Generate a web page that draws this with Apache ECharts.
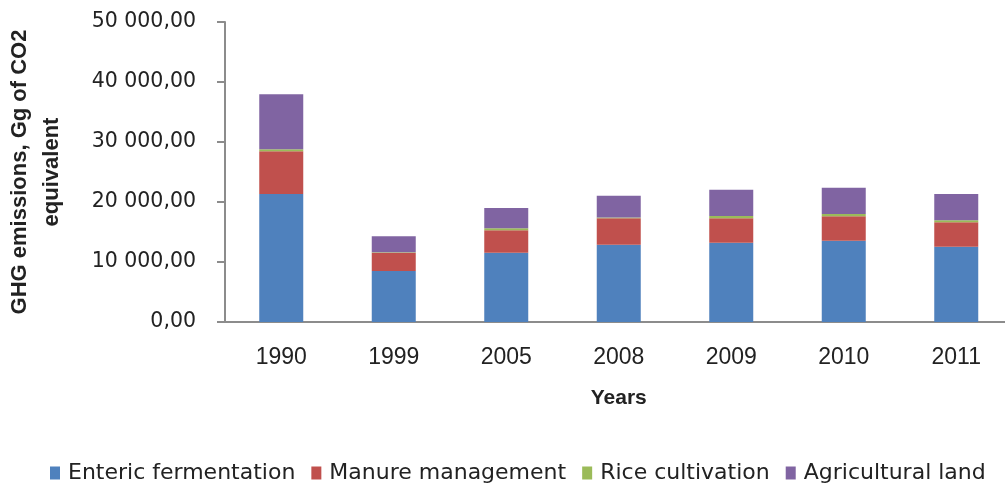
<!DOCTYPE html>
<html>
<head>
<meta charset="utf-8">
<script src="https://cdn.jsdelivr.net/npm/echarts@6/dist/echarts.min.js"></script>
<style>
  html, body { margin: 0; padding: 0; background: #fff; }
  #main { width: 1005px; height: 484px; }
</style>
</head>
<body>
<div id="main"></div>
<script>
// data
var years = ['1990', '1999', '2005', '2008', '2009', '2010', '2011']
var enteric = [21330, 8500, 11550, 12880, 13220, 13550, 12550]
var manure = [7120, 3050, 3730, 4400, 4060, 4070, 4070]
var rice = [330, 80, 330, 120, 390, 380, 330]
var agri = [9170, 2650, 3390, 3650, 4380, 4380, 4380]

var seriesNames = ['Enteric fermentation', 'Manure management', 'Rice cultivation', 'Agricultural land']
var colors = ['#4F81BD', '#C0504D', '#9BBB59', '#8064A2']

function fmt(v) {
    var parts = v.toFixed(2).split('.')
    var intPart = parts[0].replace(/\B(?=(\d{3})+(?!\d))/g, ' ')
    return intPart + ',' + parts[1]
}

var chart = echarts.init(document.getElementById('main'))

function bar(name, data, color) {
    return {
        name: name,
        type: 'bar',
        stack: 'total',
        barWidth: 44,
        data: data,
        itemStyle: { color: color }
    }
}

var option = {
    animation: false,
    color: colors,
    textStyle: { fontFamily: 'Liberation Sans' },
    grid: { left: 225, top: 22, width: 787.5, height: 300, outerBoundsMode: 'none' },
    legend: {
        left: 45,
        top: 457,
        icon: 'rect',
        itemWidth: 10,
        itemHeight: 13,
        itemGap: 16,
        textStyle: { fontFamily: 'DejaVu Sans', fontSize: 22, color: '#222', padding: [0, 0, 0, 3] },
        data: seriesNames
    },
    xAxis: {
        type: 'category',
        data: years,
        name: 'Years',
        nameLocation: 'middle',
        nameGap: 66,
        nameTextStyle: { fontWeight: 'bold', fontSize: 21, color: '#222' },
        axisLine: { lineStyle: { color: '#8c8c8c', width: 2 } },
        axisTick: { length: 9, lineStyle: { color: '#8c8c8c', width: 2 } },
        axisLabel: { fontSize: 23, color: '#222', margin: 24 }
    },
    yAxis: {
        type: 'value',
        min: 0,
        max: 50000,
        interval: 10000,
        name: 'GHG emissions, Gg of CO2\nequivalent',
        nameLocation: 'middle',
        nameRotate: 90,
        nameGap: 157,
        nameTextStyle: { fontWeight: 'bold', fontSize: 22, lineHeight: 32, color: '#222' },
        splitLine: { show: false },
        axisLine: { show: true, lineStyle: { color: '#8c8c8c', width: 2 } },
        axisTick: { show: true, length: 8, lineStyle: { color: '#8c8c8c', width: 2 } },
        axisLabel: { fontFamily: 'DejaVu Sans', fontSize: 20.5, color: '#222', margin: 29, formatter: fmt }
    },
    series: [
        bar(seriesNames[0], enteric, colors[0]),
        bar(seriesNames[1], manure, colors[1]),
        bar(seriesNames[2], rice, colors[2]),
        bar(seriesNames[3], agri, colors[3])
    ]
}
chart.setOption(option)
</script>
</body>
</html>
